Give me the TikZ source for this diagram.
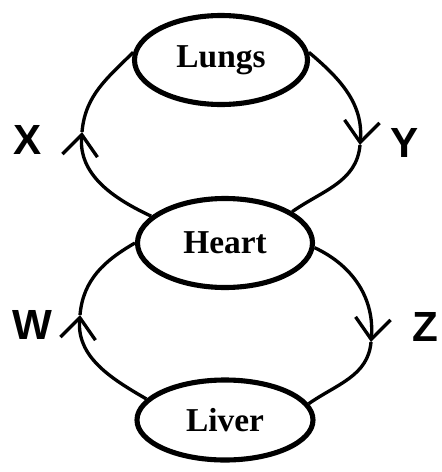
\documentclass[tikz,border=0pt]{standalone}
\usepackage{fontspec}
\setmainfont{Liberation Serif}
\setsansfont{Liberation Sans}
\usetikzlibrary{shapes.geometric,arrows.meta}
\begin{document}
\begin{tikzpicture}[>={Straight Barb[length=12pt,width=20pt,line width=1.9pt]}, line width=1.9pt,
    organ/.style={ellipse, draw, line width=2.9pt, inner sep=0pt, font=\fontsize{19}{22}\selectfont\bfseries},
    hand/.style={font=\fontsize{24}{28}\selectfont\sffamily\bfseries}]
    \useasboundingbox (0,0) rectangle (8.84,-9.44);
    \node (lungs) [organ, minimum width=3.46cm, minimum height=1.78cm] at (4.42,-1.20) {Lungs};
    \node (heart) [organ, minimum width=3.50cm, minimum height=1.78cm] at (4.50,-4.86) {Heart};
    \node (liver) [organ, minimum width=3.52cm, minimum height=1.60cm] at (4.50,-8.40) {Liver};

    % arrow points on the loops
    \coordinate (xa) at (1.64,-2.64);
    \coordinate (ya) at (7.20,-2.90);
    \coordinate (wa) at (1.60,-6.30);
    \coordinate (za) at (7.42,-6.84);

    % upper loop
    \draw [->] (heart.160) to[out=155, in=-95] (xa);
    \draw (xa) to[out=85, in=225] (lungs.175);
    \draw [->] (lungs.5) to[out=-40, in=85] (ya);
    \draw (ya) to[out=-95, in=35] (heart.25);

    % lower loop
    \draw [->] (liver.165) to[out=150, in=-95] (wa);
    \draw (wa) to[out=85, in=210] (heart.180);
    \draw [->] (heart.-3) to[out=-25, in=85] (za);
    \draw (za) to[out=-95, in=35] (liver.11);

    % labels
    \node (x) [hand] at (0.56,-2.80) {X};
    \node (y) [hand] at (8.10,-2.86) {Y};
    \node (w) [hand] at (0.64,-6.50) {W};
    \node (z) [hand] at (8.50,-6.54) {Z};
\end{tikzpicture}
\end{document}
